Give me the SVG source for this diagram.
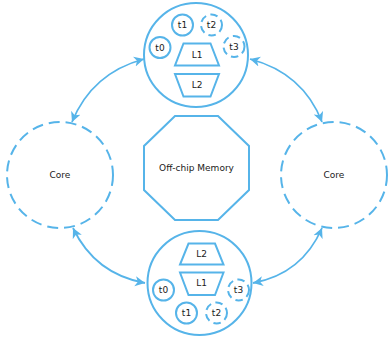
<svg xmlns="http://www.w3.org/2000/svg" width="388" height="339" viewBox="0 0 388 339">
<style>
.s{fill:none;stroke:#56B4E9;stroke-width:2}
.d{stroke-dasharray:11 6}
.sd{stroke-dasharray:7.5 4.5}
.t{font-family:"DejaVu Sans",sans-serif;font-size:9px;fill:#1a1a1a;text-anchor:middle;dominant-baseline:central}
.a{fill:none;stroke:#56B4E9;stroke-width:1.8;marker-start:url(#ah);marker-end:url(#ah)}
</style>
<defs>
<marker id="ah" markerUnits="userSpaceOnUse" markerWidth="11" markerHeight="11" refX="10" refY="5.5" orient="auto-start-reverse" viewBox="0 0 11 11">
<path d="M0,0.5 L10,5.5 L0,10.5 L2.8,5.5 z" fill="#56B4E9"/>
</marker>
</defs>
<rect width="388" height="339" fill="#fff"/>
<g id="connectors">
<path class="a" d="M72,122 Q92,73 144,59"/>
<path class="a" d="M250,59 Q303,73 322,122"/>
<path class="a" d="M73,228 Q95,274 145,283"/>
<path class="a" d="M253,283 Q302,274 322,228"/>
</g>
<g id="cache-top">
<circle class="s" cx="196" cy="55" r="52"/>
<circle class="s" cx="182.5" cy="25" r="10.5"/><text class="t" x="182.5" y="25">t1</text>
<circle class="s sd" cx="211.5" cy="25" r="10.5"/><text class="t" x="211.5" y="25">t2</text>
<circle class="s" cx="160" cy="47.5" r="10.5"/><text class="t" x="160" y="47.5">t0</text>
<circle class="s sd" cx="234" cy="46.5" r="10.5"/><text class="t" x="234" y="46.5">t3</text>
<polygon class="s" points="183.5,43.5 210.5,43.5 219,65.5 175,65.5"/><text class="t" x="197" y="55">L1</text>
<polygon class="s" points="175,74 219,74 210.5,96.5 183.5,96.5"/><text class="t" x="197" y="85">L2</text>
</g>
<g id="cache-bottom">
<circle class="s" cx="199.5" cy="283" r="52"/>
<polygon class="s" points="188.5,243.5 215,243.5 223.5,264.5 180,264.5"/><text class="t" x="201.5" y="254">L2</text>
<polygon class="s" points="180,272.5 223.5,272.5 215,295 188.5,295"/><text class="t" x="201.5" y="283">L1</text>
<circle class="s" cx="163.5" cy="290" r="10.5"/><text class="t" x="163.5" y="290">t0</text>
<circle class="s sd" cx="238.5" cy="290" r="10.5"/><text class="t" x="238.5" y="290">t3</text>
<circle class="s" cx="186.5" cy="313" r="10.5"/><text class="t" x="186.5" y="313">t1</text>
<circle class="s sd" cx="216.5" cy="313" r="10.5"/><text class="t" x="216.5" y="313">t2</text>
</g>
<g id="core-left">
<circle class="s d" cx="60" cy="175" r="53"/><text class="t" x="60" y="175">Core</text>
</g>
<g id="core-right">
<circle class="s d" cx="334" cy="175" r="53"/><text class="t" x="334" y="175">Core</text>
</g>
<g id="memory">
<polygon class="s" points="175,116 218,116 249,146 249,190 218,220 175,220 144,190 144,146"/>
<text class="t" x="196.5" y="168">Off-chip Memory</text>
</g>
</svg>
